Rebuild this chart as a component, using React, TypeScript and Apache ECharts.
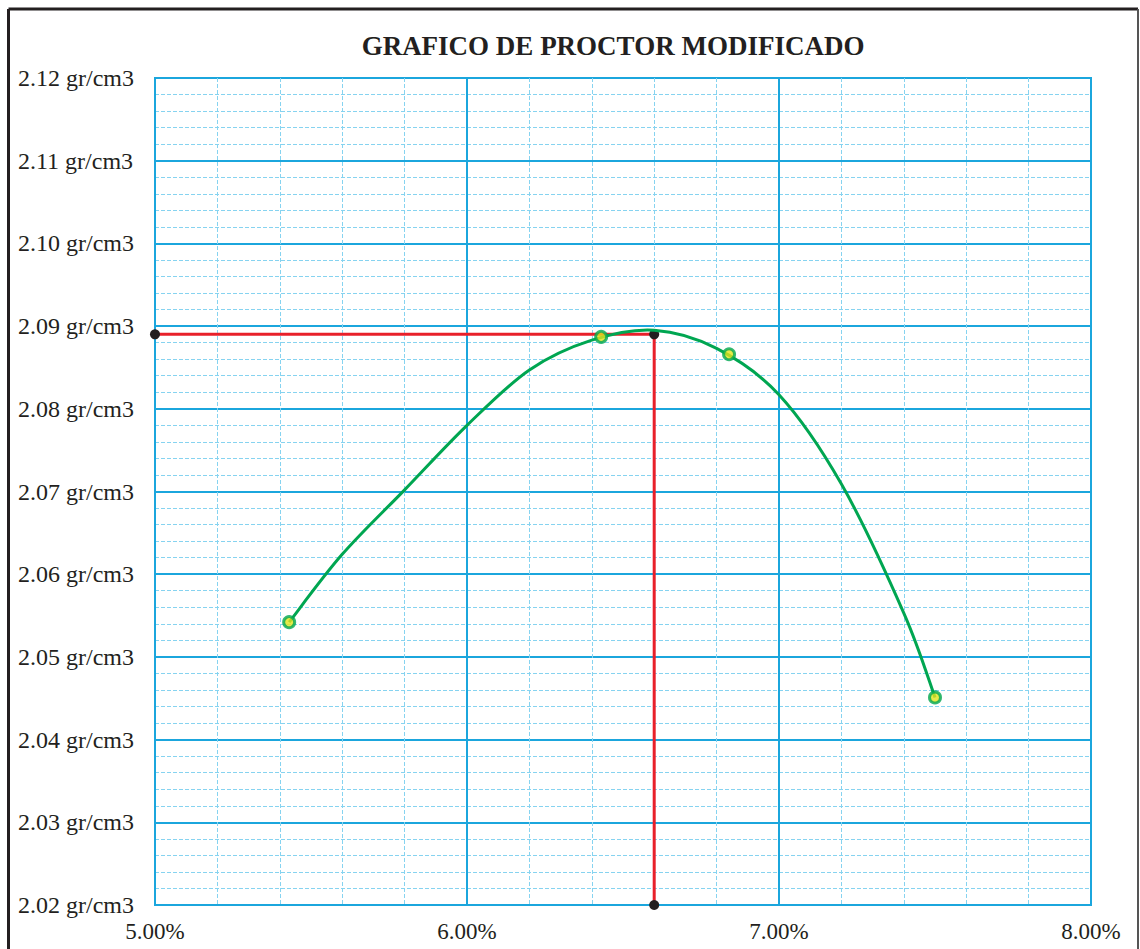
import React, { useEffect, useRef } from "react";
import * as echarts from "echarts";

const TITLE = "GRAFICO DE PROCTOR MODIFICADO";

// measured points (moisture %, dry density gr/cm3)
const pointX = [5.43, 6.43, 6.84, 7.5];
const pointY = [2.0542, 2.0887, 2.0866, 2.0451];

// trend curve
const curveX = [5.43, 5.6, 5.8, 6.0, 6.2, 6.4, 6.6, 6.8, 7.0, 7.2, 7.4, 7.5];
const curveY = [2.0542, 2.0624, 2.0702, 2.078, 2.0847, 2.0883, 2.0895, 2.0873, 2.0817, 2.0709, 2.0553, 2.0451];

// optimum: max dry density and optimum moisture
const optMoisture = 6.6;
const maxDensity = 2.089;
const axisMinY = 2.02;
const axisMinX = 5.0;

const xTicks = { min: 5, max: 8, interval: 1 };
const yTicks = { min: 2.02, max: 2.12, interval: 0.01 };

export default function App() {
  const ref = useRef<HTMLDivElement>(null);
  useEffect(() => {
    if (!ref.current) return;
    const chart = echarts.init(ref.current, null, { renderer: "svg" });
    const font = "'Liberation Serif', 'Times New Roman', serif";
    const major = "#1ba6dd";
    const minor = "#86d3f0";
    const curveData = curveX.map((x, i) => [x, curveY[i]]);
    chart.setOption({
      animation: false,
      backgroundColor: "#ffffff",
      title: {
        text: TITLE,
        left: 608,
        top: 27,
        textAlign: "center",
        textStyle: { fontFamily: font, fontWeight: "bold", fontSize: 27, color: "#231f20" },
      },
      grid: {
        left: 155,
        right: 49,
        top: 78,
        bottom: 44,
        show: true,
        borderColor: major,
        borderWidth: 2,
        backgroundColor: "#ffffff",
      },
      graphic: [
        { type: "line", shape: { x1: 8.5, y1: 9, x2: 1138, y2: 9 }, style: { stroke: "#231f20", lineWidth: 3 } },
        { type: "line", shape: { x1: 8.5, y1: 9, x2: 8.5, y2: 949 }, style: { stroke: "#231f20", lineWidth: 3 } },
        { type: "line", shape: { x1: 1138, y1: 9, x2: 1138, y2: 949 }, style: { stroke: "#555555", lineWidth: 2 } },
      ],
      xAxis: {
        type: "value",
        min: xTicks.min,
        max: xTicks.max,
        interval: xTicks.interval,
        axisLine: { show: false },
        axisTick: { show: false },
        axisLabel: {
          margin: 15,
          fontFamily: font,
          fontSize: 23,
          color: "#231f20",
          formatter: (v: number) => v.toFixed(2) + "%",
        },
        splitLine: { show: true, lineStyle: { color: major, width: 2 } },
        minorTick: { show: false, splitNumber: 5 },
        minorSplitLine: { show: true, lineStyle: { color: minor, width: 1, type: [4, 2] } },
      },
      yAxis: {
        type: "value",
        min: yTicks.min,
        max: yTicks.max,
        interval: yTicks.interval,
        axisLine: { show: false },
        axisTick: { show: false },
        axisLabel: {
          margin: 137,
          align: "left",
          fontFamily: font,
          fontSize: 24,
          color: "#231f20",
          formatter: (v: number) => v.toFixed(2) + " gr/cm3",
        },
        splitLine: { show: true, lineStyle: { color: major, width: 2 } },
        minorTick: { show: false, splitNumber: 5 },
        minorSplitLine: { show: true, lineStyle: { color: minor, width: 1, type: [4, 2] } },
      },
      series: [
        {
          type: "line",
          data: [
            [axisMinX, maxDensity],
            [optMoisture, maxDensity],
            [optMoisture, axisMinY],
          ],
          symbol: "circle",
          symbolSize: 10,
          showSymbol: true,
          clip: false,
          lineStyle: { color: "#e8202a", width: 3 },
          itemStyle: { color: "#231f20" },
          z: 2,
        },
        {
          type: "custom",
          data: curveData,
          encode: { x: 0, y: 1 },
          z: 3,
          renderItem: (params: any, api: any) => {
            if (params.dataIndex !== 0) return null;
            const pts = curveData.map((d) => api.coord(d));
            let d = `M${pts[0][0]},${pts[0][1]}`;
            for (let i = 0; i < pts.length - 1; i++) {
              const p0 = pts[i === 0 ? 0 : i - 1];
              const p1 = pts[i];
              const p2 = pts[i + 1];
              const p3 = pts[i + 2 < pts.length ? i + 2 : pts.length - 1];
              const c1x = p1[0] + (p2[0] - p0[0]) / 6;
              const c1y = p1[1] + (p2[1] - p0[1]) / 6;
              const c2x = p2[0] - (p3[0] - p1[0]) / 6;
              const c2y = p2[1] - (p3[1] - p1[1]) / 6;
              d += ` C${c1x},${c1y} ${c2x},${c2y} ${p2[0]},${p2[1]}`;
            }
            return {
              type: "path",
              shape: { pathData: d },
              style: { stroke: "#00a651", lineWidth: 3, fill: "none" },
            };
          },
        },
        {
          type: "scatter",
          data: pointX.map((x, i) => [x, pointY[i]]),
          symbol: "circle",
          symbolSize: 11,
          itemStyle: { color: "#e2e41b", borderColor: "#00a651", borderWidth: 3 },
          z: 4,
        },
      ],
    });
    return () => chart.dispose();
  }, []);
  return (
    <div
      ref={ref}
      style={{ position: "fixed", left: 0, top: 0, width: 1140, height: 949, background: "#fff" }}
    />
  );
}
